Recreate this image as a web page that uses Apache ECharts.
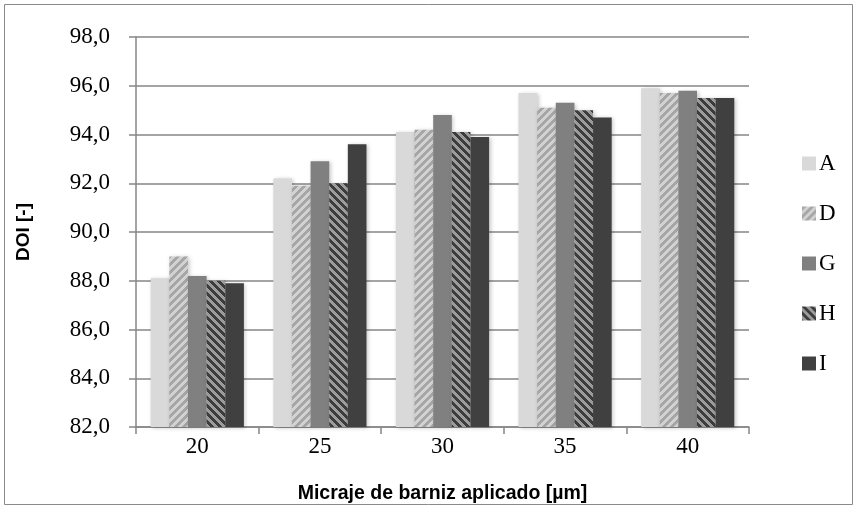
<!DOCTYPE html>
<html>
<head>
<meta charset="utf-8">
<script src="https://cdn.jsdelivr.net/npm/echarts@6/dist/echarts.min.js"></script>
<style>
  html, body { margin: 0; padding: 0; background: #fff; }
  #chart { width: 857px; height: 509px; }
</style>
</head>
<body>
<div id="chart"></div>
<script>
// Coating thickness groups (µm)
var categories = ['20', '25', '30', '35', '40'];

// DOI values per coating
var seriesNames = ['A', 'D', 'G', 'H', 'I'];
var valuesA = [88.1, 92.2, 94.1, 95.7, 95.9];
var valuesD = [89.0, 91.9, 94.2, 95.1, 95.7];
var valuesG = [88.2, 92.9, 94.8, 95.3, 95.8];
var valuesH = [88.0, 92.0, 94.1, 95.0, 95.5];
var valuesI = [87.9, 93.6, 93.9, 94.7, 95.5];

// Y axis range
var yMin = 82, yMax = 98, yStep = 2;

// Diagonal stripe pattern: dir 1 = "/", dir -1 = "\"
function stripes(c1, c2, dir) {
  var n = 8;
  var cv = document.createElement('canvas');
  cv.width = n; cv.height = n;
  var ctx = cv.getContext('2d');
  var img = ctx.createImageData(n, n);
  function hex(h) { return [parseInt(h.substr(1,2),16), parseInt(h.substr(3,2),16), parseInt(h.substr(5,2),16)]; }
  var a = hex(c1), b = hex(c2);
  for (var y = 0; y < n; y++) {
    for (var x = 0; x < n; x++) {
      var k = dir > 0 ? (x + y) : (x - y + n);
      var c = (k % n) < n / 2 ? a : b;
      var i = (y * n + x) * 4;
      img.data[i] = c[0]; img.data[i+1] = c[1]; img.data[i+2] = c[2]; img.data[i+3] = 255;
    }
  }
  ctx.putImageData(img, 0, 0);
  return { image: cv, repeat: 'repeat' };
}

var fills = [
  '#d9d9d9',
  stripes('#a6a6a6', '#d2d2d2', 1),
  '#808080',
  stripes('#3c3c3c', '#9c9c9c', -1),
  '#404040'
];
var data = [valuesA, valuesD, valuesG, valuesH, valuesI];

var serif = "'Liberation Serif', 'DejaVu Serif', serif";
var narrow = "'Liberation Sans Narrow', 'Liberation Sans', Arial, sans-serif";

var chart = echarts.init(document.getElementById('chart'));
chart.setOption({
  animation: false,
  backgroundColor: '#ffffff',
  graphic: [{
    type: 'rect',
    shape: { x: 4.5, y: 4.5, width: 848, height: 500 },
    style: { fill: 'none', stroke: '#8a8a8a', lineWidth: 1 },
    silent: true
  }],
  grid: { left: 136, right: 108, top: 37, bottom: 80.5 },
  legend: {
    orient: 'vertical',
    left: 797,
    top: 147,
    itemWidth: 14,
    itemHeight: 14,
    itemGap: 27,
    icon: 'rect',
    textStyle: { fontFamily: serif, fontSize: 23, lineHeight: 14, color: '#000', padding: [0, 0, 0, -2] },
    data: seriesNames
  },
  xAxis: {
    type: 'category',
    data: categories,
    axisLine: { lineStyle: { color: '#868686', width: 1.5 } },
    axisTick: { show: true, length: 7, lineStyle: { color: '#868686', width: 1.5 } },
    axisLabel: { fontFamily: serif, fontSize: 23, color: '#000', margin: 8 },
    name: 'Micraje de barniz aplicado [µm]',
    nameLocation: 'middle',
    nameGap: 57,
    nameTextStyle: { fontFamily: narrow, fontSize: 19.5, fontWeight: 'bold', color: '#000' }
  },
  yAxis: {
    type: 'value',
    min: yMin, max: yMax, interval: yStep,
    axisLine: { show: true, lineStyle: { color: '#868686', width: 1.5 } },
    axisTick: { show: true, length: 7, lineStyle: { color: '#868686', width: 1.5 } },
    splitLine: { lineStyle: { color: '#868686', width: 1.5 } },
    axisLabel: {
      fontFamily: serif, fontSize: 23, color: '#000', margin: 26,
      formatter: function (v) { return v.toFixed(1).replace('.', ','); }
    },
    name: 'DOI [-]',
    nameLocation: 'middle',
    nameGap: 103,
    nameRotate: 90,
    nameTextStyle: { fontFamily: narrow, fontSize: 19, fontWeight: 'bold', color: '#000' }
  },
  series: seriesNames.map(function (name, i) {
    return {
      name: name,
      type: 'bar',
      data: data[i],
      barGap: '0%',
      barCategoryGap: '24%',
      itemStyle: {
        color: fills[i],
        shadowBlur: 4,
        shadowColor: 'rgba(0,0,0,0.22)',
        shadowOffsetX: 1.5,
        shadowOffsetY: 1
      }
    };
  })
});
</script>
</body>
</html>
